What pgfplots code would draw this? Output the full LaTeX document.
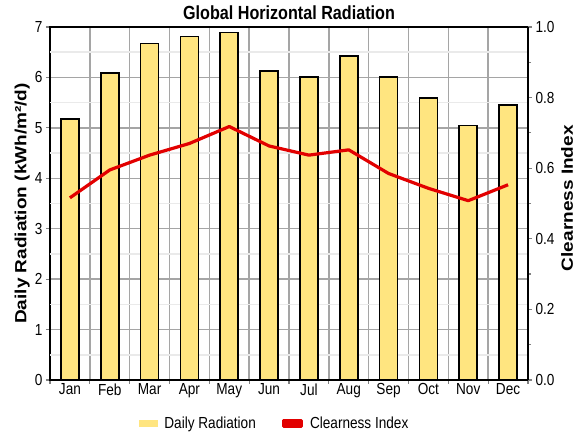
\documentclass[border=0pt]{standalone}
\usepackage{pgfplots}
\pgfplotsset{compat=1.18}
\usepackage{pgfplotstable}
\usepackage{fontspec}
\setmainfont[FakeStretch=0.85]{Liberation Sans}
\newfontfamily\vfont{Liberation Sans}

\definecolor{barfill}{RGB}{255,229,128}
\definecolor{ciRed}{RGB}{226,0,0}
\definecolor{gridgray}{RGB}{165,165,165}
\definecolor{minorgray}{RGB}{234,234,234}

% month index, daily radiation (kWh/m2/d), clearness index
\pgfplotstableread{
m rad ci
0 5.18 0.516
1 6.09 0.595
2 6.67 0.637
3 6.81 0.670
4 6.89 0.718
5 6.13 0.663
6 6.01 0.637
7 6.43 0.652
8 6.01 0.585
9 5.59 0.543
10 5.05 0.508
11 5.45 0.553
}\radtable

\begin{document}
\begin{tikzpicture}
\path[use as bounding box] (-50pt,-56pt) rectangle (537pt,380pt);
\begin{axis}[
  scale only axis, width=478pt, height=353pt,
  at={(0pt,0pt)}, anchor=south west,
  xmin=-0.5, xmax=11.5, ymin=0, ymax=7,
  axis line style={line width=1.4pt},
  tick align=outside, major tick length=4pt,
  tick style={line width=1.2pt},
  xtick pos=bottom, ytick pos=left,
  xtick={-0.5,0.5,...,11.5}, xticklabels={},
  xmajorgrids, ymajorgrids,
  major grid style={gridgray, line width=1.5pt},
  extra x ticks={0,1,...,11},
  extra x tick labels={Jan,Feb,Mar,Apr,May,Jun,Jul,Aug,Sep,Oct,Nov,Dec},
  extra x tick style={xmajorgrids=false, major tick length=0pt},
  ytick={0,1,...,7},
  extra y ticks={0.5,1.5,...,6.5}, extra y tick labels={},
  extra y tick style={ymajorgrids=true, major tick length=0pt,
    major grid style={minorgray, line width=1.5pt}},
  tick label style={font=\fontsize{16}{18}\selectfont},
  /pgf/number format/assume math mode=true,
  title={Global Horizontal Radiation},
  title style={font=\bfseries\fontsize{19}{21}\selectfont,
    at={(axis description cs:0.5,1)}, anchor=south, inner sep=1pt},
  ylabel={\scalebox{1}[0.85]{\vfont\bfseries\fontsize{19}{21}\selectfont Daily Radiation (kWh/m²/d)}},
  ylabel style={at={(axis description cs:-0.058,0.5)}, anchor=center},
]
\addplot[ybar, bar width=18pt, fill=barfill, draw=black, line width=1.6pt]
  table[x=m, y=rad]{\radtable};
\end{axis}
\begin{axis}[
  scale only axis, width=478pt, height=353pt,
  at={(0pt,0pt)}, anchor=south west,
  xmin=-0.5, xmax=11.5, ymin=0, ymax=1,
  axis x line=none, axis y line*=right,
  axis line style={line width=1.4pt},
  tick align=outside, major tick length=4pt, minor tick length=3pt,
  tick style={line width=1.2pt},
  ytick={0,0.2,0.4,0.6,0.8,1.0}, minor y tick num=1,
  tick label style={font=\fontsize{16}{18}\selectfont},
  /pgf/number format/assume math mode=true,
  yticklabel style={/pgf/number format/.cd, fixed, fixed zerofill, precision=1},
  ylabel={\scalebox{1}[0.85]{\vfont\bfseries\fontsize{19}{21}\selectfont Clearness Index}},
  ylabel style={at={(axis description cs:1.082,0.515)}, anchor=center},
  legend style={at={(0.47,-0.093)}, anchor=north, legend columns=2,
    draw=none, fill=none, font=\fontsize{16}{18}\selectfont,
    /tikz/every odd column/.append style={column sep=5pt},
    /tikz/every even column/.append style={column sep=24pt}},
]
\addlegendimage{legend image code/.code={\fill[barfill] (0pt,-3pt) rectangle (18pt,3pt);}}
\addlegendentry{Daily Radiation}
\addplot[ciRed, line width=3.2pt, line join=round,
  legend image code/.code={\fill[ciRed] (0pt,-3pt) rectangle (18pt,3pt);}]
  table[x=m, y=ci]{\radtable};
\addlegendentry{Clearness Index}
\end{axis}
\end{tikzpicture}
\end{document}
